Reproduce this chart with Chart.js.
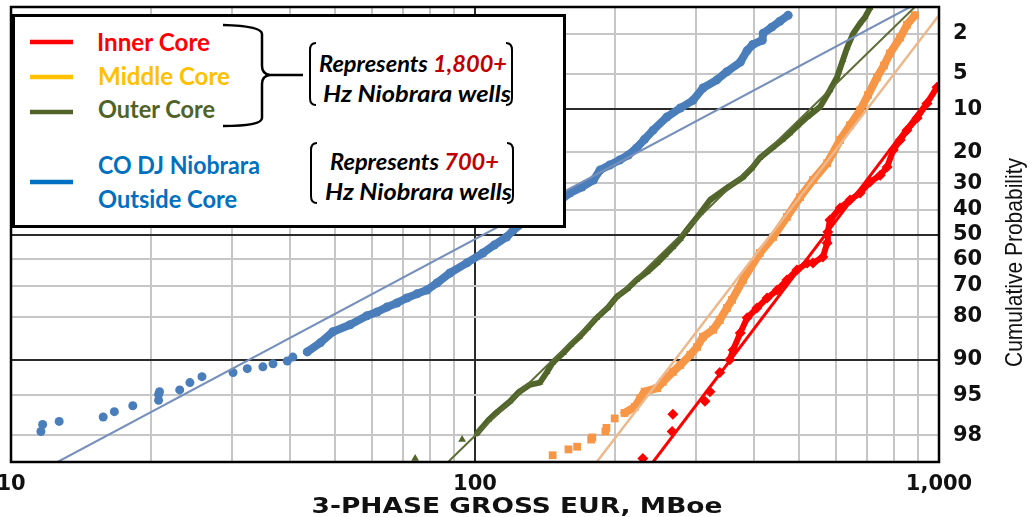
<!DOCTYPE html>
<html>
<head>
<meta charset="utf-8">
<title>3-Phase Gross EUR probability plot</title>
<script src="https://cdn.jsdelivr.net/npm/chart.js@4.4.1/dist/chart.umd.min.js"></script>
<style>
  html, body { margin: 0; padding: 0; background: #fff; }
  #wrap { position: relative; width: 1036px; height: 517px; overflow: hidden; }
  #chart { position: absolute; left: 0; top: 0; }
  #overlay { position: absolute; left: 0; top: 0; pointer-events: none; }
</style>
</head>
<body>
<div id="wrap">
  <canvas id="chart" width="1036" height="517"></canvas>
  <svg id="overlay" width="1036" height="517" xmlns="http://www.w3.org/2000/svg">
    <!-- axis titles -->
    <text x="517" y="513" text-anchor="middle" font-family="DejaVu Sans" font-weight="bold" font-size="22" textLength="411" lengthAdjust="spacingAndGlyphs" fill="#111">3-PHASE GROSS EUR, MBoe</text>
    <text transform="translate(1021.5,262.5) rotate(-90)" text-anchor="middle" font-family="Liberation Sans" font-size="24" textLength="209" lengthAdjust="spacingAndGlyphs" fill="#111">Cumulative Probability</text>

    <!-- legend box -->
    <rect x="13.5" y="15.5" width="551" height="211" fill="#fff" stroke="#000" stroke-width="3"/>
    <line x1="30" y1="42" x2="73" y2="42" stroke="#FF0000" stroke-width="4.5"/>
    <line x1="30" y1="77" x2="73" y2="77" stroke="#FFC000" stroke-width="4.5"/>
    <line x1="30" y1="112" x2="73" y2="112" stroke="#4F6228" stroke-width="4.5"/>
    <line x1="30" y1="182" x2="73" y2="182" stroke="#0070C0" stroke-width="4.5"/>
    <g font-family="Lato" font-weight="bold" font-size="24">
      <text x="97" y="51" fill="#FF0000" textLength="113" lengthAdjust="spacingAndGlyphs">Inner Core</text>
      <text x="98" y="85" fill="#FFC000" textLength="132" lengthAdjust="spacingAndGlyphs">Middle Core</text>
      <text x="98" y="118" fill="#4F6228" textLength="117" lengthAdjust="spacingAndGlyphs">Outer Core</text>
      <text x="98" y="174" fill="#0070C0" textLength="162" lengthAdjust="spacingAndGlyphs">CO DJ Niobrara</text>
      <text x="98" y="208" fill="#0070C0" textLength="139" lengthAdjust="spacingAndGlyphs">Outside Core</text>
    </g>
    <!-- brace -->
    <path d="M223,25 Q262,26 262,34 L262,66 Q262,74 270,75 L303,75 M270,75 Q262,76 262,84 L262,118 Q262,126 223,126" fill="none" stroke="#000" stroke-width="2.5"/>
    <!-- brackets -->
    <g fill="none" stroke="#000" stroke-width="2">
      <path d="M316,43 Q310,43 310,50 L310,98 Q310,105 316,105"/>
      <path d="M506,43 Q512,43 512,50 L512,98 Q512,105 506,105"/>
      <path d="M317,143 Q311,143 311,150 L311,196 Q311,203 317,203"/>
      <path d="M507,143 Q513,143 513,150 L513,196 Q513,203 507,203"/>
    </g>
    <g font-family="Lato" font-weight="bold" font-style="italic" font-size="23" fill="#000">
      <text x="319" y="72" textLength="188" lengthAdjust="spacingAndGlyphs">Represents <tspan fill="#C00000">1,800+</tspan></text>
      <text x="323" y="102" textLength="188" lengthAdjust="spacingAndGlyphs">Hz Niobrara wells</text>
      <text x="330" y="170" textLength="169" lengthAdjust="spacingAndGlyphs">Represents <tspan fill="#C00000">700+</tspan></text>
      <text x="325" y="200" textLength="187" lengthAdjust="spacingAndGlyphs">Hz Niobrara wells</text>
    </g>
  </svg>
</div>
<script>
// Axis ticks
const eurTicks = [10, 20, 30, 40, 50, 60, 70, 80, 90, 100, 200, 300, 400, 500, 600, 700, 800, 900, 1000];
const eurLabelValues = [10, 100, 1000];
const eurLabels = ["10", "100", "1,000"];
const probTicks = [2, 5, 10, 20, 30, 40, 50, 60, 70, 80, 90, 95, 98];
const probDark = [10, 50, 90];

// CO DJ Niobrara Outside Core (blue dots) - EUR in MBoe, cumulative probability in %
const blueTailEur = [11.6, 11.7, 12.7, 15.8, 16.7, 18.3, 20.8, 20.8, 20.9, 23.1, 24.3, 25.8, 30.1, 32.3, 34.9, 36.7, 39.4, 40.5];
const blueTailPct = [97.8, 97.4, 97.2, 96.9, 96.5, 96.0, 95.5, 94.9, 94.6, 94.4, 93.5, 92.7, 92.1, 91.5, 91.2, 90.7, 90.2, 89.5];
const blueEur = [43.5, 46.4, 49.4, 53.8, 58.5, 61.5, 64.6, 67.9, 71.3, 75.0, 78.8, 82.8, 88.3, 96.1, 104, 110, 117, 121, 129, 136, 143, 151, 160, 170, 180, 186, 195, 205, 214, 223, 232, 242, 259, 277, 295, 310, 332, 349, 373, 386, 397, 416, 418, 436, 454, 473];
const bluePct = [88.5, 86.6, 84.0, 82.2, 79.7, 78.6, 77.1, 75.8, 74.2, 72.8, 71.5, 69.0, 65.3, 61.4, 57.5, 54.3, 51.0, 48.2, 44.1, 42.1, 40.1, 37.0, 33.6, 31.4, 28.9, 25.5, 23.9, 22.3, 20.8, 18.8, 16.5, 14.3, 11.5, 9.8, 8.5, 6.7, 5.7, 4.8, 3.9, 3.0, 2.6, 2.35, 1.98, 1.70, 1.46, 1.25];
const blueFitEur = [12.6, 866];
const blueFitPct = [99, 1];

// Outer Core (olive triangles)
const oliveTailEur = [74.3, 93.8];
const oliveTailPct = [98.9, 98.2];
const oliveEur = [101, 107, 111, 119, 124, 131, 138, 143, 147, 155, 161, 168, 175, 183, 193, 202, 213, 223, 235, 247, 257, 267, 277, 286, 306, 321, 349, 378, 395, 411, 439, 459, 477, 497, 520, 554, 582, 603, 621, 634, 653, 676, 693, 710];
const olivePct = [97.9, 97.1, 96.6, 95.6, 94.7, 93.8, 93.5, 92.0, 90.5, 88.7, 87.0, 85.2, 83.0, 80.3, 77.4, 73.8, 71.1, 67.9, 64.9, 61.5, 58.3, 55.1, 51.8, 48.2, 41.3, 36.2, 31.7, 27.9, 24.9, 21.7, 18.6, 16.7, 15.0, 13.2, 11.5, 9.6, 7.0, 5.4, 3.7, 2.8, 2.0, 1.54, 1.31, 1.03];
const oliveFitEur = [87.5, 887];
const oliveFitPct = [99, 1];

// Middle Core (orange squares)
const orangeTailEur = [147, 159, 166, 178, 179, 191, 192, 200];
const orangeTailPct = [98.8, 98.6, 98.5, 98.2, 98.1, 97.8, 97.6, 97.0];
const orangeEur = [210, 221, 227, 232, 247, 254, 267, 277, 291, 301, 310, 326, 337, 349, 358, 378, 411, 439, 470, 502, 535, 574, 612, 643, 676, 703, 735, 761, 784, 825, 853, 887];
const orangePct = [96.6, 96.1, 95.3, 94.6, 94.2, 93.4, 92.0, 90.9, 89.1, 87.5, 85.2, 83.5, 80.9, 77.4, 74.8, 67.9, 57.5, 51.0, 42.9, 35.1, 28.9, 23.3, 16.7, 13.2, 10.2, 7.7, 5.4, 4.2, 3.2, 2.2, 1.6, 1.25];
const orangeFitEur = [183, 1000];
const orangeFitPct = [99, 1.25];

// Inner Core (red markers)
const redTailEur = [230, 266, 267, 313, 321, 337];
const redTailPct = [98.9, 97.8, 96.7, 95.6, 94.6, 92.1];
const redEur = [354, 360, 373, 386, 405, 426, 448, 470, 494, 520, 535, 562, 574, 576, 582, 612, 643, 676, 710, 747, 773, 797, 825, 853, 897, 942, 990];
const redPct = [90.0, 88.1, 84.3, 80.3, 77.4, 74.2, 71.5, 67.9, 64.2, 61.5, 61.5, 59.1, 53.5, 49.0, 44.1, 39.3, 36.2, 33.6, 29.6, 27.2, 24.5, 19.4, 16.7, 14.3, 11.7, 9.0, 6.6];
const redFitEur = [242, 1000];
const redFitPct = [99, 6.3];

// inverse normal CDF (Acklam)
function probit(p) {
  const a = [-39.69683028665376, 220.9460984245205, -275.9285104469687, 138.3577518672690, -30.66479806614716, 2.506628277459239];
  const b = [-54.47609879822406, 161.5858368580409, -155.6989798598866, 66.80131188771972, -13.28068155288572];
  const c = [-0.007784894002430293, -0.3223964580411365, -2.400758277161838, -2.549732539343734, 4.374664141464968, 2.938163982698783];
  const d = [0.007784695709041462, 0.3224671290700398, 2.445134137142996, 3.754408661907416];
  const lo = 0.02425;
  if (p < lo) {
    const q = Math.sqrt(-2 * Math.log(p));
    return (((((c[0]*q+c[1])*q+c[2])*q+c[3])*q+c[4])*q+c[5]) / ((((d[0]*q+d[1])*q+d[2])*q+d[3])*q+1);
  }
  if (p > 1 - lo) {
    const q = Math.sqrt(-2 * Math.log(1 - p));
    return -(((((c[0]*q+c[1])*q+c[2])*q+c[3])*q+c[4])*q+c[5]) / ((((d[0]*q+d[1])*q+d[2])*q+d[3])*q+1);
  }
  const q = p - 0.5, r = q * q;
  return (((((a[0]*r+a[1])*r+a[2])*r+a[3])*r+a[4])*r+a[5])*q / (((((b[0]*r+b[1])*r+b[2])*r+b[3])*r+b[4])*r+1);
}

function normCdf(z) {
  const t = 1 / (1 + 0.3275911 * Math.abs(z) / Math.SQRT2);
  const y = 1 - (((((1.061405429*t - 1.453152027)*t) + 1.421413741)*t - 0.284496736)*t + 0.254829592)*t * Math.exp(-z*z/2);
  return z >= 0 ? (1 + y) / 2 : (1 - y) / 2;
}

// Probability (normal) axis
class ProbitScale extends Chart.Scale {
  static id = "probit";
  static defaults = {};
  determineDataLimits() {
    this.min = this.options.min;
    this.max = this.options.max;
  }
  buildTicks() {
    return probTicks.map(v => ({ value: v }));
  }
  getLabelForValue(v) {
    return String(v);
  }
  getPixelForValue(v) {
    const z0 = probit(this.min / 100), z1 = probit(this.max / 100);
    return this.getPixelForDecimal((probit(v / 100) - z0) / (z1 - z0));
  }
  getValueForPixel(px) {
    const z0 = probit(this.min / 100), z1 = probit(this.max / 100);
    return 100 * normCdf(z0 + this.getDecimalForPixel(px) * (z1 - z0));
  }
}
Chart.register(ProbitScale);

const pts = (xs, ys) => xs.map((x, i) => ({ x: x, y: ys[i] }));

function band(label, xs, ys, color, style, radius, width) {
  return { label, data: pts(xs, ys), showLine: true, borderColor: color, backgroundColor: color,
    borderWidth: width, borderJoinStyle: "round", borderCapStyle: "round",
    pointStyle: style, pointRadius: radius, pointBorderWidth: 0, order: 1 };
}
function tail(label, xs, ys, color, style, radius) {
  return { label, data: pts(xs, ys), showLine: false, backgroundColor: color, borderColor: color,
    pointStyle: style, pointRadius: radius, pointBorderWidth: 0, order: 1 };
}
function fit(label, xs, ys, color, width) {
  return { label, data: pts(xs, ys), showLine: true, borderColor: color, borderWidth: width,
    pointRadius: 0, order: 0 };
}

const framePlugin = {
  id: "frame",
  afterDatasetsDraw(chart) {
    const { ctx, chartArea: a } = chart;
    ctx.save();
    ctx.strokeStyle = "#000";
    ctx.lineWidth = 2.5;
    ctx.strokeRect(a.left, a.top, a.right - a.left, a.bottom - a.top);
    ctx.restore();
  }
};

const tickFont = { family: "DejaVu Sans", weight: "bold", size: 21 };

new Chart(document.getElementById("chart"), {
  type: "scatter",
  data: {
    datasets: [
      fit("Blue fit", blueFitEur, blueFitPct, "#7690BB", 2),
      fit("Olive fit", oliveFitEur, oliveFitPct, "#5B6D35", 2),
      fit("Orange fit", orangeFitEur, orangeFitPct, "#EDB88C", 2.5),
      fit("Red fit", redFitEur, redFitPct, "#FF0000", 3),
      band("CO DJ Niobrara Outside Core", blueEur, bluePct, "#4A7EBB", "circle", 4.5, 8),
      tail("CO DJ Niobrara Outside Core tail", blueTailEur, blueTailPct, "#4A7EBB", "circle", 4.5),
      band("Outer Core", oliveEur, olivePct, "#51652A", "triangle", 4, 6),
      tail("Outer Core tail", oliveTailEur, oliveTailPct, "#51652A", "triangle", 4.5),
      band("Middle Core", orangeEur, orangePct, "#F79646", "rect", 5.5, 8),
      tail("Middle Core tail", orangeTailEur, orangeTailPct, "#F79646", "rect", 5.5),
      band("Inner Core", redEur, redPct, "#FF0000", "rectRot", 5.5, 6),
      tail("Inner Core tail", redTailEur, redTailPct, "#FF0000", "rectRot", 5.5)
    ]
  },
  options: {
    responsive: false,
    animation: false,
    events: [],
    layout: { padding: { left: 11, top: 7, right: 0, bottom: 0 } },
    plugins: { legend: { display: false }, tooltip: { enabled: false } },
    scales: {
      x: {
        type: "logarithmic",
        min: 10,
        max: 1000,
        afterBuildTicks: s => { s.ticks = eurTicks.map(v => ({ value: v })); },
        afterFit: s => { s.height = 55; s.paddingLeft = 0; s.paddingRight = 0; },
        grid: {
          drawTicks: false,
          lineWidth: 2,
          color: c => (c.tick && c.tick.value === 100) ? "#2b2b2b" : "#c6c6c6"
        },
        border: { display: true, color: "#000", width: 2 },
        ticks: {
          autoSkip: false,
          maxRotation: 0,
          padding: 10,
          color: "#111",
          font: tickFont,
          callback: v => {
            const i = eurLabelValues.indexOf(v);
            return i >= 0 ? eurLabels[i] : "";
          }
        }
      },
      y: {
        type: "probit",
        position: "right",
        min: 1,
        max: 99,
        reverse: true,
        afterFit: s => { s.width = 97; s.paddingTop = 0; s.paddingBottom = 0; },
        grid: {
          drawTicks: false,
          lineWidth: 2,
          color: c => (c.tick && probDark.includes(c.tick.value)) ? "#2b2b2b" : "#c6c6c6"
        },
        border: { display: true, color: "#000", width: 2 },
        ticks: { padding: 14, color: "#111", font: tickFont }
      }
    }
  },
  plugins: [framePlugin]
});
</script>
</body>
</html>
